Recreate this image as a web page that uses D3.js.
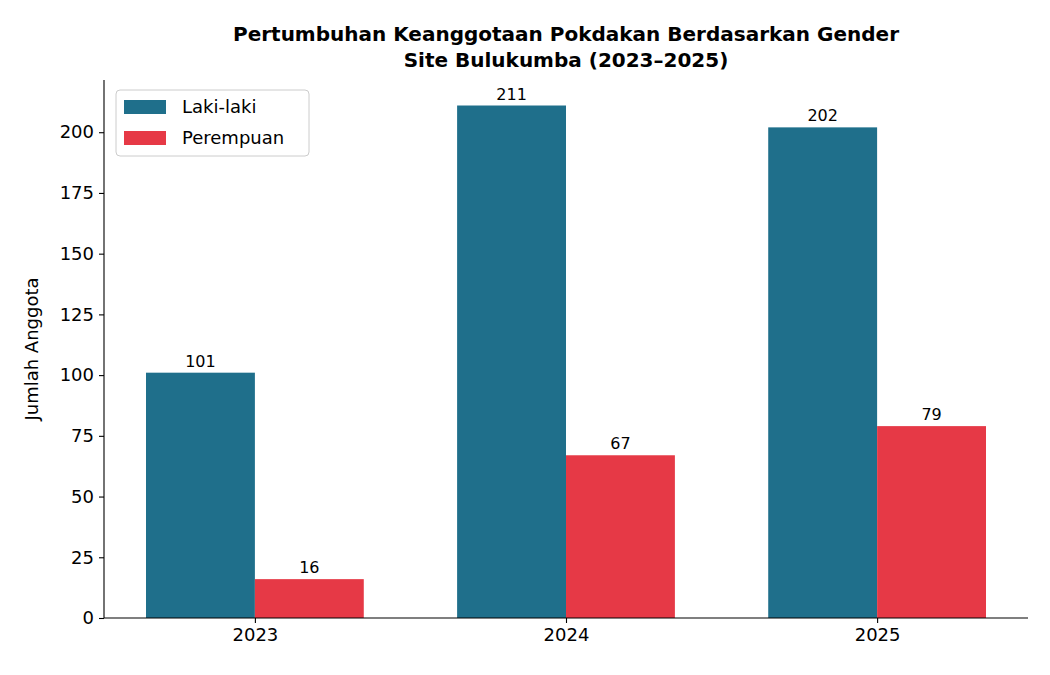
<!DOCTYPE html>
<html><head><meta charset="utf-8">
<script src="https://cdn.jsdelivr.net/npm/d3@7"></script>
<style>body{margin:0;background:#fff}text{font-family:"DejaVu Sans",sans-serif}</style>
</head><body><svg id="c" width="1050" height="675"></svg>
<script>
const years=["2023","2024","2025"];
const laki=[101,211,202];
const perempuan=[16,67,79];
const yTicks=[0,25,50,75,100,125,150,175,200];
const seriesNames=["Laki-laki","Perempuan"];
const colors=["#1f6f8b","#e63946"];

const svg=d3.select("#c");
const L=104,R=1028,T=80,B=618;
const x=d3.scaleLinear().domain([-0.485,2.485]).range([L,R]);
const y=d3.scaleLinear().domain([0,221.5]).range([B,T]);
const w=0.35;
const series=[laki,perempuan];
series.forEach((vals,si)=>{
  const off=si===0?-w:0;
  svg.selectAll(null).data(vals).enter().append("rect")
    .attr("x",(d,i)=>x(i+off)).attr("width",x(w)-x(0))
    .attr("y",d=>y(d)).attr("height",d=>B-y(d)).attr("fill",colors[si]);
  svg.selectAll(null).data(vals).enter().append("text")
    .attr("x",(d,i)=>x(i+off+w/2)).attr("y",d=>y(d)-6)
    .attr("text-anchor","middle").attr("font-size",16).text(d=>d);
});
const ya=svg.append("g").attr("transform",`translate(${L},0)`)
  .call(d3.axisLeft(y).tickValues(yTicks).tickSize(5).tickPadding(5));
ya.select(".domain").attr("d",`M0,${B}V${T}`);
const xa=svg.append("g").attr("transform",`translate(0,${B})`)
  .call(d3.axisBottom(x).tickValues([0,1,2]).tickFormat((d,i)=>years[i]).tickSize(5).tickPadding(5));
xa.select(".domain").attr("d",`M${L},0H${R}`);
svg.selectAll(".tick text").attr("font-size",18).attr("font-family","DejaVu Sans").attr("fill","#000");
svg.selectAll(".domain,.tick line").attr("stroke","#000").attr("stroke-width",1.1);
svg.append("text").attr("transform",`translate(38,${(T+B)/2}) rotate(-90)`)
  .attr("text-anchor","middle").attr("font-size",18).text("Jumlah Anggota");
svg.append("text").attr("x",566).attr("y",41).attr("text-anchor","middle").attr("font-size",20).attr("font-weight","bold")
  .text("Pertumbuhan Keanggotaan Pokdakan Berdasarkan Gender");
svg.append("text").attr("x",566).attr("y",67).attr("text-anchor","middle").attr("font-size",20).attr("font-weight","bold")
  .text("Site Bulukumba (2023–2025)");
const lg=svg.append("g");
lg.append("rect").attr("x",116).attr("y",90).attr("width",193).attr("height",66).attr("rx",4)
  .attr("fill","#fff").attr("stroke","#ccc");
seriesNames.forEach((n,i)=>{
  lg.append("rect").attr("x",124).attr("y",100+i*31).attr("width",42).attr("height",14).attr("fill",colors[i]);
  lg.append("text").attr("x",182).attr("y",113+i*31).attr("font-size",18).text(n);
});
</script></body></html>
